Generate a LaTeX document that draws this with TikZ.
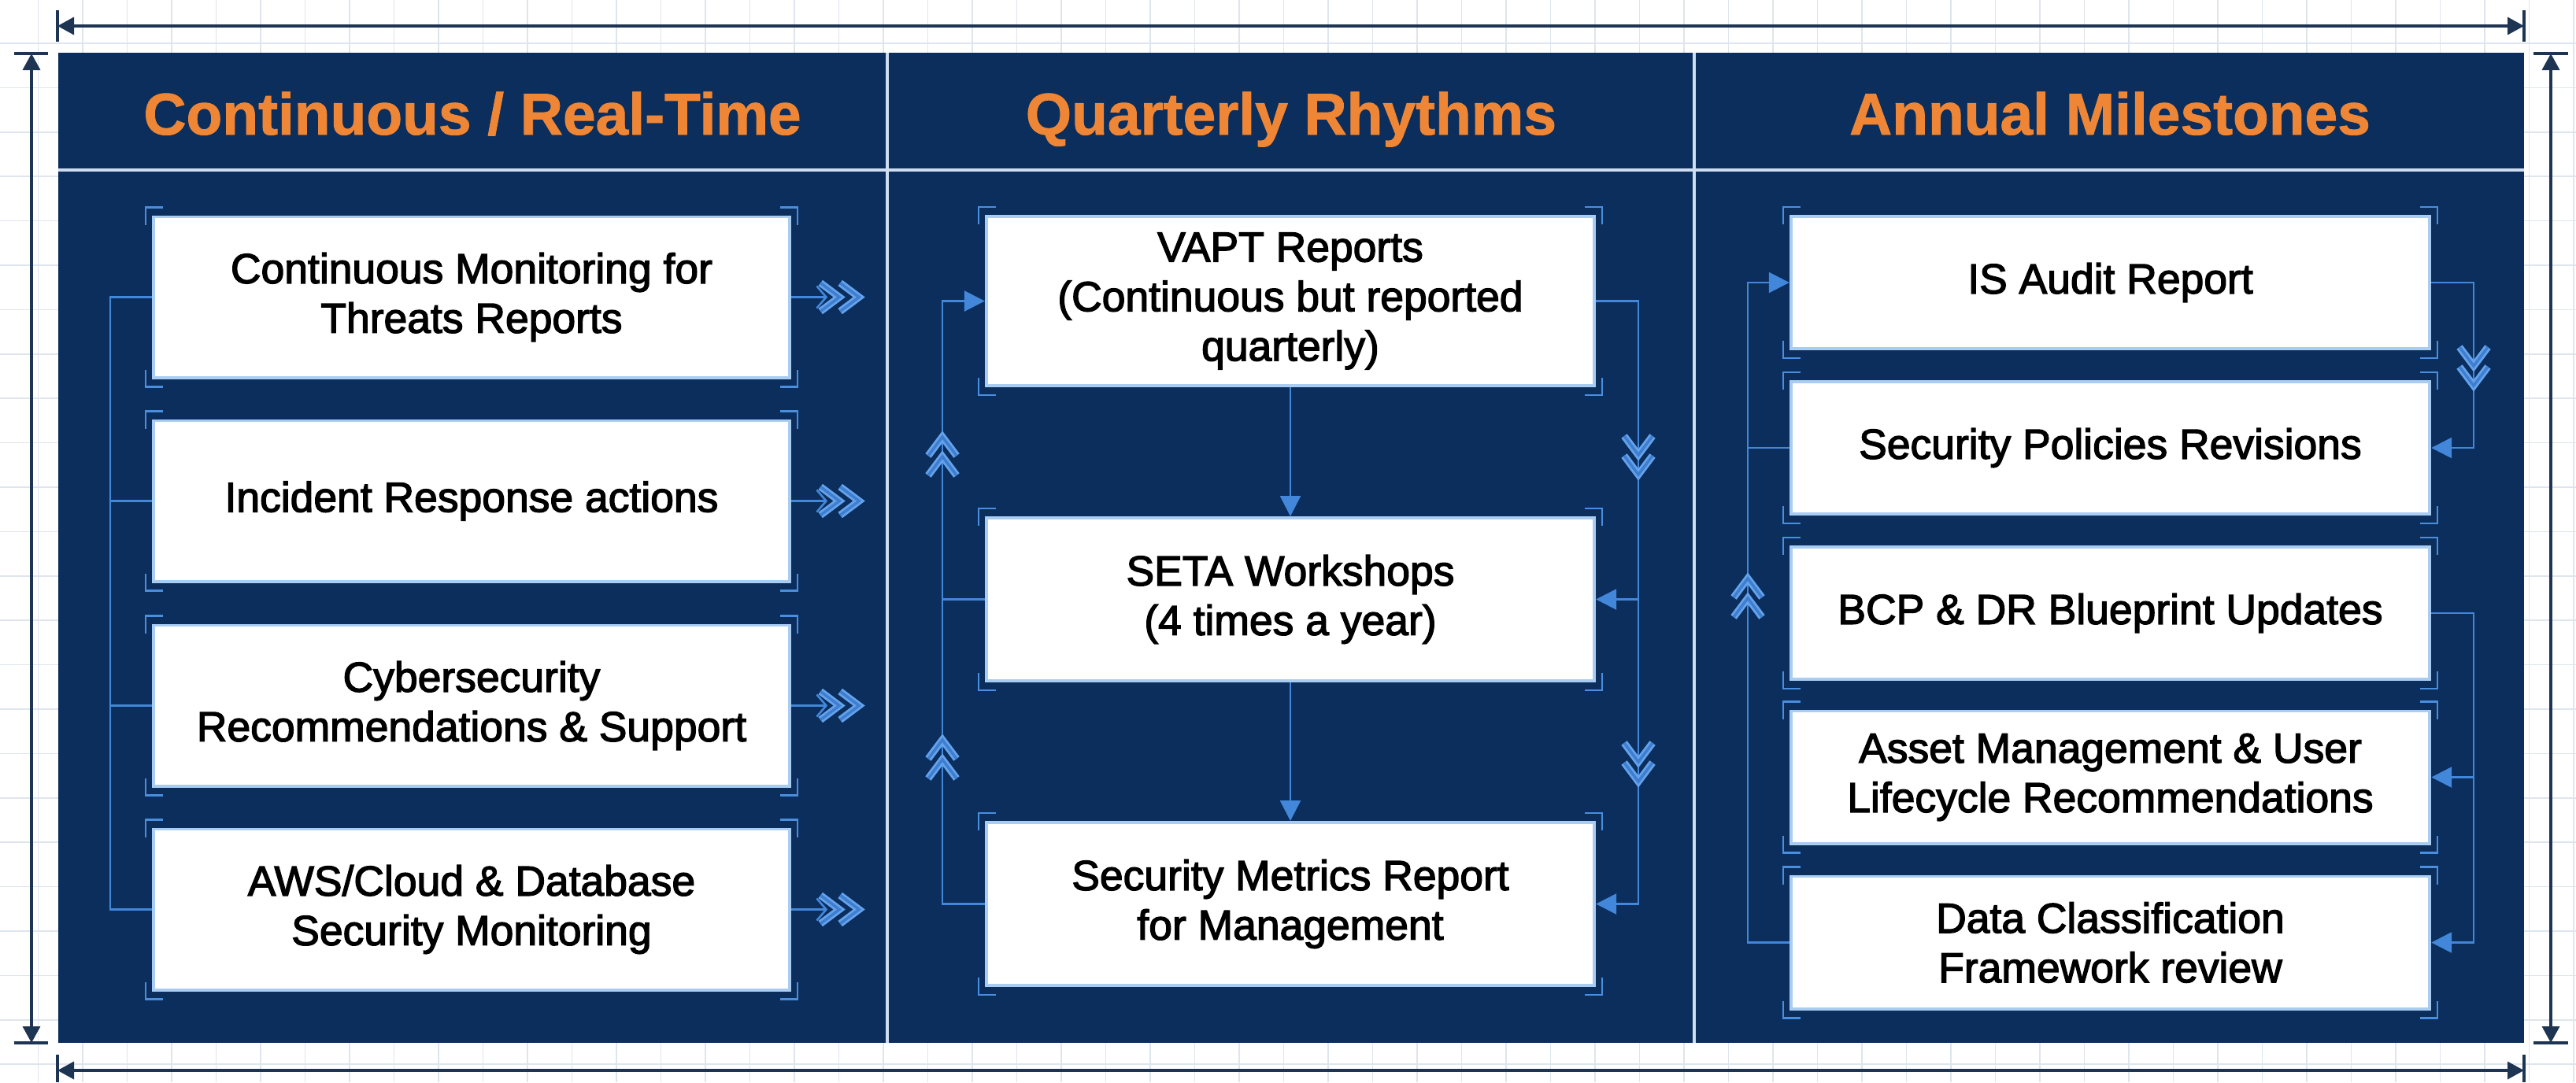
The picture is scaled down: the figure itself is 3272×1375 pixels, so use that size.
\documentclass[tikz,border=0pt]{standalone}
\usepackage{fontspec}
\setmainfont{Liberation Sans}
\newfontfamily\boxfont[FakeBold=2.5]{Liberation Sans}
\newfontfamily\hdrfont[FakeBold=1.2]{Liberation Sans Bold}
\usetikzlibrary{arrows.meta,calc}
\definecolor{navy}{HTML}{0B2E5C}
\definecolor{divider}{HTML}{CFDDF0}
\definecolor{connc}{HTML}{4287DA}
\definecolor{chevc}{HTML}{64A2EC}
\definecolor{chevin}{HTML}{3F7ECF}
\definecolor{boxedge}{HTML}{A9CDF2}
\definecolor{brkc}{HTML}{4A8EDF}
\definecolor{orangeh}{HTML}{EE8636}
\definecolor{dimc}{HTML}{1D3553}
\definecolor{gridc}{HTML}{DFE5EC}
\newcommand\boxcorners[1]{%
  \draw[brk] ($(#1.north west)+(-8,12)$) -- ++(0,-22) -- ++(22,0);
  \draw[brk] ($(#1.north east)+(-14,-10)$) -- ++(22,0) -- ++(0,22);
  \draw[brk] ($(#1.south west)+(-8,-12)$) -- ++(0,22) -- ++(22,0);
  \draw[brk] ($(#1.south east)+(-14,10)$) -- ++(22,0) -- ++(0,-22);
}
\tikzset{
  hdr/.style={text=orangeh, font=\fontsize{21.3}{25}\selectfont\hdrfont, inner sep=0, anchor=base},
  lbox/.style={draw=boxedge, line width=1.1pt, fill=white, align=center, inner sep=0,
    font=\fontsize{15.2}{17.9}\selectfont\boxfont},
  lcol/.style={lbox, minimum width=8.08cm, minimum height=2.04cm},
  mcol/.style={lbox, minimum width=7.72cm, minimum height=2.07cm},
  rcol/.style={lbox, minimum width=8.11cm, minimum height=1.68cm},
  brk/.style={draw=brkc, line width=0.6pt},
  conn/.style={draw=connc, line width=0.75pt},
  tip/.style={-{Triangle[length=0.26cm,width=0.26cm]}},
  barb/.style={-{Straight Barb[length=0.12cm,width=0.28cm]}},
  dim/.style={draw=dimc, line width=1pt},
  dimtip/.style={{Triangle[length=0.21cm,width=0.22cm]}-{Triangle[length=0.21cm,width=0.22cm]}},
  chevst/.style={draw=chevc, line width=0.8pt, double=chevin, double distance=1pt, line join=miter},
  chev/.pic={\draw[chevst] (-12,-18) -- (12,0) -- (-12,18);},
}
\begin{document}
\begin{tikzpicture}[x=0.01cm, y=-0.01cm]
\useasboundingbox (0,0) rectangle (3272,1375);
\fill[white] (0,0) rectangle (3272,1375);
% grid paper
\foreach \gx in {48.5,105,...,3272} \draw[gridc, line width=0.5pt] (\gx,0) -- (\gx,1375);
\foreach \gy in {55,111.4,...,1375} \draw[gridc, line width=0.5pt] (0,\gy) -- (3272,\gy);
% panel
\coordinate (pnw) at (74,67);
\coordinate (pse) at (3206,1325);
\fill[navy] (pnw) rectangle (pse);
\draw[divider, line width=1.1pt] (74,216) -- (3206,216);
\draw[divider, line width=0.9pt] (1127,67) -- (1127,1325);
\draw[divider, line width=0.9pt] (2152,67) -- (2152,1325);
% dimension arrows
\draw[dim, dimtip] (73,33) -- (3206,33);
\draw[dim] (73,13) -- (73,53);
\draw[dim] (3206,13) -- (3206,53);
\draw[dim, dimtip] (73,1360) -- (3206,1360);
\draw[dim] (73,1340) -- (73,1375);
\draw[dim] (3206,1340) -- (3206,1375);
\draw[dim, dimtip] (40,68) -- (40,1325);
\draw[dim] (18,68) -- (61,68);
\draw[dim] (18,1325) -- (61,1325);
\draw[dim, dimtip] (3240,68) -- (3240,1325);
\draw[dim] (3218,68) -- (3262,68);
\draw[dim] (3218,1325) -- (3262,1325);
% headers
\node[hdr] (h1) at (600,171) {Continuous / Real-Time};
\node[hdr] (h2) at (1640,171) {Quarterly Rhythms};
\node[hdr] (h3) at (2680,171) {Annual Milestones};
% left column
\node[lcol] (l1) at (599,377.5) {Continuous Monitoring for\\Threats Reports};
\node[lcol] (l2) at (599,636.5) {Incident Response actions};
\node[lcol] (l3) at (599,896.5) {Cybersecurity\\Recommendations \& Support};
\node[lcol] (l4) at (599,1155.5) {AWS/Cloud \& Database\\Security Monitoring};
% middle column
\node[mcol, minimum height=2.15cm] (m1) at (1639,382.5) {VAPT Reports\\(Continuous but reported\\quarterly)};
\node[mcol] (m2) at (1639,761.5) {SETA Workshops\\(4 times a year)};
\node[mcol] (m3) at (1639,1148.5) {Security Metrics Report\\for Management};
% right column
\node[rcol] (r1) at (2680.5,359) {IS Audit Report};
\node[rcol] (r2) at (2680.5,569) {Security Policies Revisions};
\node[rcol] (r3) at (2680.5,779) {BCP \& DR Blueprint Updates};
\node[rcol] (r4) at (2680.5,987.5) {Asset Management \& User\\Lifecycle Recommendations};
\node[rcol] (r5) at (2680.5,1197.5) {Data Classification\\Framework review};
\foreach \n in {l1,l2,l3,l4,m1,m2,m3,r1,r2,r3,r4,r5} {\boxcorners{\n}}
% left column connectors
\coordinate (lbus) at (140,0);
\draw[conn] (l1.west) -- (l1.west -| lbus) -- (l4.west -| lbus) -- (l4.west);
\draw[conn] (l2.west) -- (l2.west -| lbus);
\draw[conn] (l3.west) -- (l3.west -| lbus);
\foreach \n in {l1,l2,l3,l4} {
  \draw[conn, barb] (\n.east) -- ++(46,0) coordinate (\n-o);
  \path (\n-o) ++(3,0) pic {chev} ++(25,0) pic {chev};
}
% middle column connectors
\coordinate (mlbus) at (1197,0);
\coordinate (mrbus) at (2081,0);
\draw[conn, tip] (m1.south) -- (m2.north);
\draw[conn, tip] (m2.south) -- (m3.north);
\draw[conn, tip] (m3.west) -- (m3.west -| mlbus) -- (m1.west -| mlbus) -- (m1.west);
\draw[conn] (m2.west) -- (m2.west -| mlbus);
\draw[conn, tip] (m1.east) -- (m1.east -| mrbus) -- (m3.east -| mrbus) -- (m3.east);
\draw[conn, tip] (m2.east -| mrbus) -- (m2.east);
\path (1197,567) pic[rotate=90] {chev} (1197,592) pic[rotate=90] {chev};
\path (1197,952) pic[rotate=90] {chev} (1197,977) pic[rotate=90] {chev};
\path (2081,566) pic[rotate=-90] {chev} (2081,591) pic[rotate=-90] {chev};
\path (2081,956) pic[rotate=-90] {chev} (2081,981) pic[rotate=-90] {chev};
% right column connectors
\coordinate (rlbus) at (2220,0);
\coordinate (rrbus) at (3142,0);
\draw[conn, tip] (r5.west) -- (r5.west -| rlbus) -- (r1.west -| rlbus) -- (r1.west);
\draw[conn] (r2.west) -- (r2.west -| rlbus);
\draw[conn, tip] (r1.east) -- (r1.east -| rrbus) -- (r2.east -| rrbus) -- (r2.east);
\draw[conn, tip] (r3.east) -- (r3.east -| rrbus) -- (r5.east -| rrbus) -- (r5.east);
\draw[conn, tip] (r4.east -| rrbus) -- (r4.east);
\path (3142,453) pic[rotate=-90] {chev} (3142,478) pic[rotate=-90] {chev};
\path (2220,747) pic[rotate=90] {chev} (2220,772) pic[rotate=90] {chev};
\end{tikzpicture}
\end{document}
